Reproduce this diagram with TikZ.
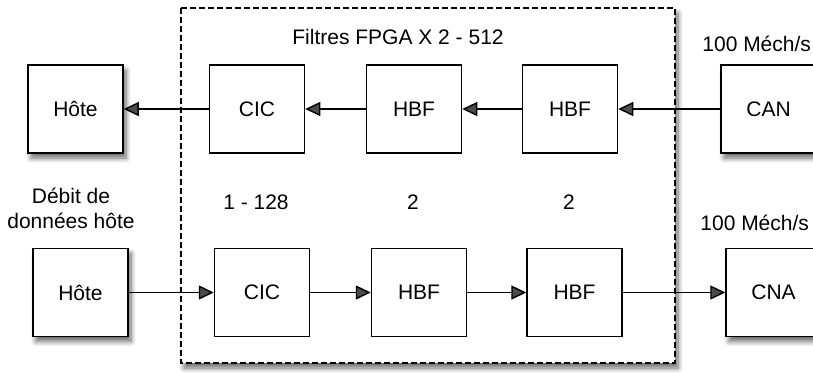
\documentclass[tikz,border=0pt]{standalone}
\usepackage{fontspec}
\setmainfont{Liberation Sans}
\usetikzlibrary{arrows.meta,shadows.blur}
\begin{document}
\begin{tikzpicture}[x=0.5pt,y=-0.5pt,
    bloc/.style={draw, line width=0.75pt, fill=white, minimum width=47.5pt, minimum height=44pt, inner sep=0pt, font=\fontsize{10.5}{12.5}\selectfont},
    ombre/.style={blur shadow={shadow xshift=1.5pt, shadow yshift=-2.5pt, shadow blur steps=8, shadow blur radius=2.5pt, shadow opacity=60}},
    lbl/.style={font=\fontsize{10.5}{12.5}\selectfont, inner sep=0pt, align=center},
    fleche/.style={line width=0.7pt, -{Triangle[length=7.5pt,width=7pt]}}]
  \useasboundingbox (0,0) rectangle (813,372);
  % cadre FPGA
  \draw[dashed, dash pattern=on 3pt off 1.5pt, line width=0.6pt, fill=white, ombre] (181,8) rectangle (675,363);
  \node[lbl] (titre) at (398,37) {Filtres FPGA X 2 - 512};
  % chaine de reception
  \node[bloc, ombre] (hote1) at (75.5,109) {Hôte};
  \node[bloc] (cic1) at (257,109) {CIC};
  \node[bloc] (hbfa1) at (414,109) {HBF};
  \node[bloc] (hbfb1) at (570,109) {HBF};
  \node[bloc, ombre] (can) at (768.5,109) {CAN};
  \node[lbl, anchor=west] (debitcan) at (702,44) {100 Méch/s};
  \draw[fleche] (can) -- (hbfb1);
  \draw[fleche] (hbfb1) -- (hbfa1);
  \draw[fleche] (hbfa1) -- (cic1);
  \draw[fleche] (cic1) -- (hote1);
  % facteurs de decimation
  \node[lbl] (debit) at (71,208) {Débit de\\données hôte};
  \node[lbl] (dec1) at (256,202) {1 - 128};
  \node[lbl] (dec2) at (413,202) {2};
  \node[lbl] (dec3) at (569,202) {2};
  % chaine d'emission
  \node[bloc, ombre] (hote2) at (80.5,292.5) {Hôte};
  \node[bloc] (cic2) at (262,292.5) {CIC};
  \node[bloc] (hbfa2) at (419,292.5) {HBF};
  \node[bloc] (hbfb2) at (574.5,292.5) {HBF};
  \node[bloc, ombre] (cna) at (773.5,292.5) {CNA};
  \node[lbl, anchor=west] (debitcna) at (700,223) {100 Méch/s};
  \draw[fleche] (hote2) -- (cic2);
  \draw[fleche] (cic2) -- (hbfa2);
  \draw[fleche] (hbfa2) -- (hbfb2);
  \draw[fleche] (hbfb2) -- (cna);
\end{tikzpicture}
\end{document}
